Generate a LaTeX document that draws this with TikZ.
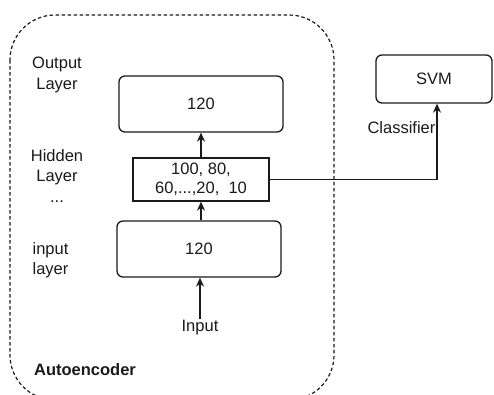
\documentclass[tikz,border=0pt]{standalone}
\usepackage{fontspec}
\setmainfont{Liberation Sans}
\usetikzlibrary{arrows.meta}
\definecolor{ink}{HTML}{1A1A1A}
\tikzset{
  layerbox/.style={draw=ink, line width=1.3pt, rounded corners=6pt, minimum width=164pt, minimum height=56pt, font=\fontsize{16.5}{19}\selectfont, text=ink},
  codebox/.style={draw=ink, line width=1.3pt, minimum width=136pt, minimum height=43pt, inner sep=1pt, align=center, font=\fontsize{16.5}{19.5}\selectfont, text=ink},
  lbl/.style={align=center, font=\fontsize{16.5}{20.5}\selectfont, text=ink, inner sep=1pt},
  flow/.style={draw=ink, line width=1.3pt, -{Stealth[length=9pt,width=8pt]}},
  frame/.style={draw=ink, line width=1.2pt, dash pattern=on 3.5pt off 2.5pt, rounded corners=45pt}
}
\begin{document}
\begin{tikzpicture}[x=1pt, y=-1pt]
  \useasboundingbox (0,0) rectangle (494,394);
  \clip (0,0) rectangle (494,394);

  % autoencoder frame (bottom runs past the lower edge)
  \draw[frame] (10,15) rectangle (334,400);

  % layers of the autoencoder
  \node[layerbox] (out) at (201,104) {120};
  \node[codebox] (hid) at (201,179.5) {100, 80,\\60,...,20,\ \ 10};
  \node[layerbox] (inl) at (199,249) {120};
  \node[lbl] (inp) at (200,328) {Input};

  % side labels
  \node[lbl] (outlbl) at (57,75) {Output\\Layer};
  \node[lbl] (hidlbl) at (57,176) {Hidden\\Layer\\...};
  \node[lbl] (inlbl) at (50.5,260) {input\\layer};
  \node[lbl, font=\fontsize{16.5}{19}\selectfont\bfseries] (ae) at (85,370) {Autoencoder};

  % classifier
  \node[layerbox, minimum width=116pt, minimum height=48pt] (svm) at (434,79) {SVM};
  \node[lbl] (clf) at (401.5,128) {Classifier};
  \coordinate (svmin) at ([xshift=3pt]svm.south);

  % connectors
  \draw[flow] (inp.north) -- (inp.north |- inl.south);
  \draw[flow] ([xshift=2pt]inl.north) -- ([xshift=2pt]inl.north |- hid.south);
  \draw[flow] (hid.north) -- (hid.north |- out.south);
  \draw[flow] (hid.east) -| (svmin);
\end{tikzpicture}
\end{document}
